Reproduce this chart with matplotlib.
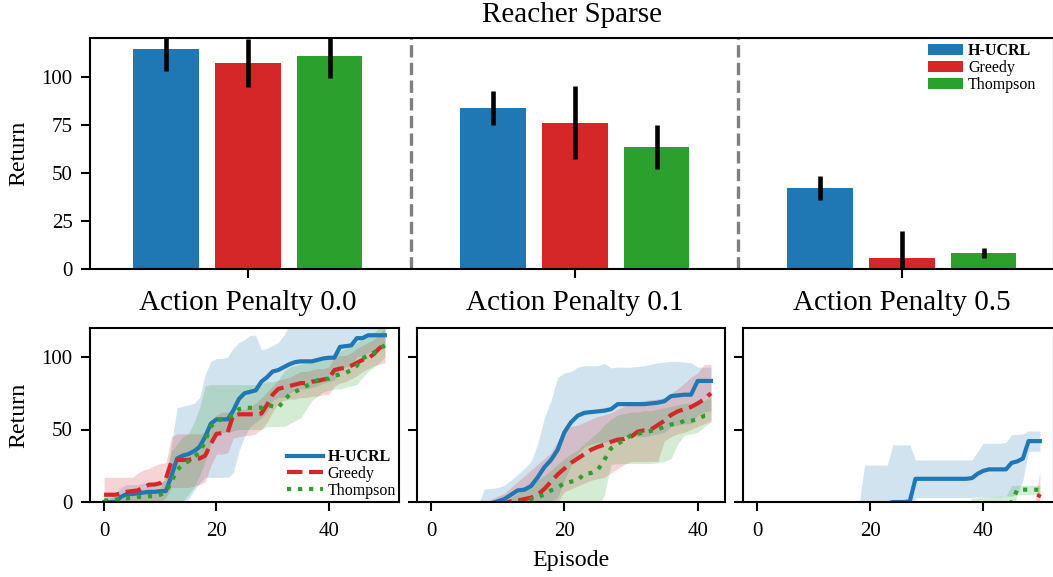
import numpy as np
import matplotlib
matplotlib.use("Agg")
import matplotlib.pyplot as plt

plt.rcParams["font.family"] = ["Liberation Serif", "DejaVu Serif"]
plt.rcParams["axes.linewidth"] = 1.0

methods = ["H-UCRL", "Greedy", "Thompson"]
colors = ["#1f77b4", "#d62728", "#2ca02c"]
styles = ["-", "--", ":"]
penalties = ["Action Penalty 0.0", "Action Penalty 0.1", "Action Penalty 0.5"]

# final return per penalty (bar chart)
bar_hucrl = [114.4, 83.7, 42.1]
bar_hucrl_err = [11.3, 8.9, 6.4]
bar_greedy = [107.1, 75.9, 5.7]
bar_greedy_err = [12.3, 19.0, 14.1]
bar_thompson = [110.8, 63.4, 8.3]
bar_thompson_err = [11.6, 11.3, 2.4]

# learning curves, penalty 0.0 (episodes 0..50)
p00_hucrl = [0, 0, 0, 3.5, 5.5, 5.5, 6, 6.5, 7, 7, 7.5, 7.5, 18, 30, 32, 33, 35, 38, 45, 54, 57, 57, 57,
             63, 71, 75, 76, 77, 83, 86, 90, 91, 93, 95, 96.5, 97, 97, 97, 98, 99, 99.5, 99.5, 107, 107.5, 108,
             113, 113, 115, 115, 115, 115]
p00_hucrl_hi = [0, 2, 5, 10, 12, 12, 12, 13, 13, 14, 14, 15, 40, 65, 66, 67, 68, 72, 88, 97, 99, 99, 100,
                106, 110, 112, 115, 115, 105, 106, 108, 110, 115, 122, 125, 125, 125, 125, 125, 125, 125, 125,
                125, 125, 125, 125, 125, 125, 125, 125, 125]
p00_hucrl_lo = [0, 0, 0, 0, 0, 0, 0, 0, 0, 0, 0, 0, 0, 0, 0, 2, 8, 13, 17, 17, 17, 17, 17, 20, 35, 45, 52,
                55, 58, 62, 70, 72, 72, 75, 77, 78, 78, 79, 80, 82, 83, 84, 92, 93, 94, 100, 101, 103, 104,
                105, 106]
p00_greedy = [5, 5, 5, 6, 7, 7.5, 8, 10, 12, 12, 13, 16, 28, 29, 29, 29, 30, 30, 32, 40, 47, 47.5, 48, 60,
              60.5, 60.5, 60.5, 60.5, 61, 67, 74, 78, 79, 80, 81, 82, 82, 83, 83.5, 84.5, 85, 91, 92, 92.5,
              94, 96, 98, 99, 102, 106, 109]
p00_greedy_hi = [17, 17, 17, 17, 17, 17, 20, 22, 23, 25, 26.5, 27, 45, 47, 47, 47, 47, 47, 48, 55, 60, 62,
                 62, 62, 63, 64, 66, 68, 72, 76, 80, 84, 85, 86, 88, 90, 90, 91, 92, 92, 93, 100, 101, 101,
                 103, 106, 108, 110, 112, 116, 120]
p00_greedy_lo = [0, 0, 0, 0, 0, 0, 0, 0, 0, 0, 0, 3, 10, 10, 10, 10, 11, 12, 14, 25, 33, 33, 34, 44, 45, 46,
                 46, 47, 50, 55, 62, 68, 70, 71, 71, 72, 72, 73, 73, 74, 74, 80, 82, 83, 85, 87, 90, 92, 94,
                 95, 96]
p00_thompson = [1, 1, 1.5, 2, 2.5, 3, 3.5, 3.5, 4, 4, 5, 7, 14, 22, 26, 28, 31, 34, 42, 52, 56, 57, 58, 60,
                64, 65, 65, 65, 65, 67, 66, 65, 70, 74, 76, 78, 80, 82, 84, 85, 85, 87, 88, 89, 91, 94, 99,
                101, 103, 106, 108]
p00_thompson_hi = [3, 3, 4, 5, 5, 6, 6, 7, 8, 8, 9, 20, 35, 40, 45, 47, 55, 65, 80, 81, 81, 81, 81, 81, 81,
                   81, 81, 81, 82, 83, 83, 84, 90, 93, 94, 95, 96, 97, 98, 99, 100, 102, 104, 106, 108, 110,
                   113, 115, 117, 120, 122]
p00_thompson_lo = [0, 0, 0, 0, 0, 0, 0, 0, 0, 0, 0, 0, 0, 0, 0, 5, 10, 18, 28, 40, 48, 48, 48, 49, 50, 50,
                   50, 50, 50, 52, 52, 52, 52, 54, 56, 58, 64, 70, 73, 76, 77, 78, 78, 79, 80, 81, 86, 90, 93,
                   96, 100]

# learning curves, penalty 0.1 (episodes 0..42)
p01_hucrl = [-3, -3, -3, -3, -3, -3, -3, -3, -3, -1, 0.5, 2, 5, 8, 8.5, 11, 17, 24, 29, 36, 48, 55, 59.5,
             61.5, 62, 62.5, 63, 64, 67.5, 67.5, 67.5, 67.5, 67.5, 68, 68.5, 69.5, 73, 73.5, 74, 74, 83.5,
             83.5, 83.5]
p01_hucrl_hi = [-3, -3, -3, -3, -3, -3, -3, -3, 9, 9.3, 10, 11.5, 15, 19, 23, 28, 40, 58, 70, 86, 89, 90,
                93, 94, 94, 94, 95.5, 92.5, 93, 93, 93, 93.5, 94, 95, 96, 96.5, 97, 97, 96.5, 96, 93, 93, 93]
p01_hucrl_lo = [-10, -10, -10, -10, -10, -10, -10, -10, -10, -10, -10, -10, -10, -10, -10, -10, -5, -2, 0,
                3, 15, 25, 33, 38, 40, 41, 41, 42, 44, 45, 45, 45, 45, 46, 47, 48, 52, 53, 54, 54, 60, 62,
                63]
p01_greedy = [-3, -3, -3, -3, -3, -3, -3, -3, -3, -3, -3, -1, 0.5, 1, 2, 3, 5, 9, 14, 19, 23, 27, 30, 33,
              36, 38, 39.5, 41.5, 43, 43.5, 45, 48.5, 49.5, 50, 53, 56, 60, 62.5, 64, 65.5, 68, 71, 75]
p01_greedy_hi = [-2, -2, -2, -2, -2, -2, -2, -2, -2, 2, 4, 6, 10, 14, 18, 22, 26, 30, 34, 42, 50, 52, 53,
                 55, 57, 59, 60, 61.5, 64, 66, 68, 69, 70, 70.5, 71, 72, 75, 78, 82, 86, 89, 95, 95]
p01_greedy_lo = [-10, -10, -10, -10, -10, -10, -10, -10, -10, -10, -10, -10, -10, -10, -10, -10, -10, -10,
                 -4, 0, 7, 9, 11, 13, 15, 16, 17, 20, 23, 26, 28, 28, 28, 28, 28, 42, 45, 47, 48, 50, 52,
                 54, 56]
p01_thompson = [-3, -3, -3, -3, -3, -3, -3, -3, -3, -3, -3, -3, -3, -1, 0.5, 2, 3.5, 5, 8, 10, 13, 14, 15,
                19.5, 20, 22, 29, 37, 40, 43, 46, 47, 48, 49, 50, 52, 53.5, 54, 56, 56, 57, 59.5, 60]
p01_thompson_hi = [-2, -2, -2, -2, -2, -2, -2, -2, -2, -2, -2, -2, 3, 6, 10, 12, 15, 18, 22, 26, 30, 33,
                   36, 40, 44, 48, 53, 57, 60, 61, 62, 62, 63, 63, 64, 65, 66, 67, 68, 68, 68, 70, 72]
p01_thompson_lo = [-10, -10, -10, -10, -10, -10, -10, -10, -10, -10, -10, -10, -10, -10, -10, -10, -10,
                   -10, -10, -10, -10, -10, -10, -10, -10, -5, 5, 26, 26.5, 26.5, 26.5, 26.5, 26.5, 26.5,
                   27, 28, 30, 40, 46, 47, 48, 52, 55]

# learning curves, penalty 0.5 (episodes 0..50)
p05_hucrl = [-5, -5, -5, -5, -5, -5, -5, -5, -5, -5, -5, -5, -5, -5, -5, -5, -5, -5, -5, -5, -5, -5, -5,
             -1, 0, 0, 0, 0.5, 16, 16, 16, 16, 16, 16, 16, 16, 16, 16, 16.5, 19.5, 21.5, 22.5, 22.5, 22.5,
             22.5, 27, 28, 30, 42, 42, 42]
p05_hucrl_hi = [-3, -3, -3, -3, -3, -3, -3, -3, -3, -3, -3, -3, -3, -3, -3, -3, -3, -3, -2, 25.5, 25.5,
                25.5, 25.5, 25.5, 39.4, 39.4, 39.4, 39.4, 29, 29, 29, 29, 29, 29, 29, 29, 29, 29, 29, 35,
                40.5, 40.5, 40.5, 40.5, 41, 46.5, 46.5, 47, 49, 49, 49]
p05_hucrl_lo = [-10, -10, -10, -10, -10, -10, -10, -10, -10, -10, -10, -10, -10, -10, -10, -10, -10, -10,
                -10, -10, -10, -10, -10, -10, -10, -10, -10, -10, 3, 3, 3, 3, 3, 3, 3, 3, 3, 3, 3, 3.5, 3.5,
                3.5, 3.5, 3.5, 4, 4, 5, 15, 35, 35, 35]
p05_greedy = [-5, -5, -5, -5, -5, -5, -5, -5, -5, -5, -5, -5, -5, -5, -5, -5, -5, -5, -5, -5, -5, -5, -5,
              -5, -5, -5, -5, -5, -5, -5, -5, -5, -5, -5, -5, -5, -5, -5, -5, -5, -5, -5, -5, -5, -5, -5,
              -5, -5, -5, -2, 5.5]
p05_greedy_hi = [-5, -5, -5, -5, -5, -5, -5, -5, -5, -5, -5, -5, -5, -5, -5, -5, -5, -5, -5, -5, -5, -5,
                 -5, -5, -5, -5, -5, -5, -5, -5, -5, -5, -5, -5, -5, -5, -5, -5, -5, -5, -5, -5, -5, -5,
                 -5, -5, -5, -5, -5, -4, 21]
p05_greedy_lo = [-10] * 51
p05_thompson = [-5, -5, -5, -5, -5, -5, -5, -5, -5, -5, -5, -5, -5, -5, -5, -5, -5, -5, -5, -5, -5, -5, -5,
                -5, -5, -5, -5, -5, -5, -5, -5, -5, -5, -5, -5, -5, -5, -5, -5, -5, -5, -5, -5, -5, -3, 0,
                8.5, 8.5, 8.5, 8.5, 8.5]
p05_thompson_hi = [-3, -3, -3, -3, -3, -3, -3, -3, -3, -3, -3, -3, -3, -3, -3, -3, -3, -3, -3, -3, -3, -3,
                   -3, -3, -3, -3, -3, -3, -3, -3, -3, -3, -3, -3, -3, -3, -3, -2, 2.5, 3, 3.5, 3.5, 4, 4,
                   4, 11.5, 11.5, 11.5, 11.5, 11.5, 11.5]
p05_thompson_lo = [-10, -10, -10, -10, -10, -10, -10, -10, -10, -10, -10, -10, -10, -10, -10, -10, -10,
                   -10, -10, -10, -10, -10, -10, -10, -10, -10, -10, -10, -10, -10, -10, -10, -10, -10, -10,
                   -10, -10, -10, -10, -10, -10, -10, -10, -10, -10, -10, 5, 5, 5, 5, 5]

curves = [
    [(p00_hucrl, p00_hucrl_lo, p00_hucrl_hi), (p00_greedy, p00_greedy_lo, p00_greedy_hi),
     (p00_thompson, p00_thompson_lo, p00_thompson_hi)],
    [(p01_hucrl, p01_hucrl_lo, p01_hucrl_hi), (p01_greedy, p01_greedy_lo, p01_greedy_hi),
     (p01_thompson, p01_thompson_lo, p01_thompson_hi)],
    [(p05_hucrl, p05_hucrl_lo, p05_hucrl_hi), (p05_greedy, p05_greedy_lo, p05_greedy_hi),
     (p05_thompson, p05_thompson_lo, p05_thompson_hi)],
]

W, H = 1053, 577
fig = plt.figure(figsize=(W / 150, H / 150), dpi=150)

tick_kw = dict(length=4.3, width=1.0, labelsize=10, pad=4)

# ---- top: final return bars ----
ax = fig.add_axes([90 / W, 1 - 269 / H, 964 / W, 231 / H])
x = np.arange(len(penalties))
bars = [(bar_hucrl, bar_hucrl_err), (bar_greedy, bar_greedy_err), (bar_thompson, bar_thompson_err)]
for k, ((vals, errs), c, m) in enumerate(zip(bars, colors, methods)):
    ax.bar(x + (k - 1) * 0.25, vals, 0.2, yerr=errs, color=c, label=m,
           error_kw=dict(ecolor="black", elinewidth=2.2, capsize=0))
for sep in (0.5, 1.5):
    ax.axvline(sep, color="#808080", ls="--", lw=1.6)
ax.set_xlim(-0.483, 2.465)
ax.set_ylim(0, 120)
ax.set_yticks([0, 25, 50, 75, 100])
ax.set_xticks(x, penalties, fontsize=14)
ax.tick_params(**tick_kw)
ax.tick_params(axis="x", labelsize=14, pad=6)
ax.set_ylabel("Return", fontsize=11.5, labelpad=6)
ax.set_title("Reacher Sparse", fontsize=14, pad=7.5)
leg = ax.legend(loc="upper right", bbox_to_anchor=(0.99, 1.012), frameon=False, fontsize=7.7,
                handlelength=2.2, handletextpad=0.3, labelspacing=0.05, borderaxespad=0.3,
                borderpad=0.2)
leg.get_texts()[0].set_fontweight("bold")

# ---- bottom: learning curves ----
lefts = [90, 417, 743]
widths = [309, 308, 311]
axes = []
for j in range(3):
    a = fig.add_axes([lefts[j] / W, 1 - 502 / H, widths[j] / W, 174 / H],
                     sharey=axes[0] if axes else None)
    axes.append(a)
    for (mean, lo, hi), c in zip(curves[j], colors):
        ep = np.arange(len(mean))
        a.fill_between(ep, lo, hi, color=c, alpha=0.2, lw=0)
    for (mean, lo, hi), c, ls, m in zip(curves[j], colors, styles, methods):
        ep = np.arange(len(mean))
        a.plot(ep, mean, color=c, ls=ls, lw=2, label=m)
    n_ep = len(curves[j][0][0]) - 1
    a.set_xlim(-0.05 * n_ep, 1.05 * n_ep)
    a.set_xticks([0, 20, 40])
    a.tick_params(**tick_kw)
    a.tick_params(axis="x", pad=5.5)
    if j > 0:
        a.tick_params(labelleft=False)

axes[0].set_ylim(0, 120)
axes[0].set_yticks([0, 50, 100])
axes[0].set_ylabel("Return", fontsize=11.5, labelpad=6)
axes[1].set_xlabel("Episode", fontsize=11.5)
leg2 = axes[0].legend(loc="lower right", frameon=False, fontsize=7.7, handlelength=2.3,
                      handletextpad=0.25, labelspacing=0.05, borderaxespad=0.1, borderpad=0.1)
leg2.get_texts()[0].set_fontweight("bold")

fig.savefig("out.png", dpi=150)
